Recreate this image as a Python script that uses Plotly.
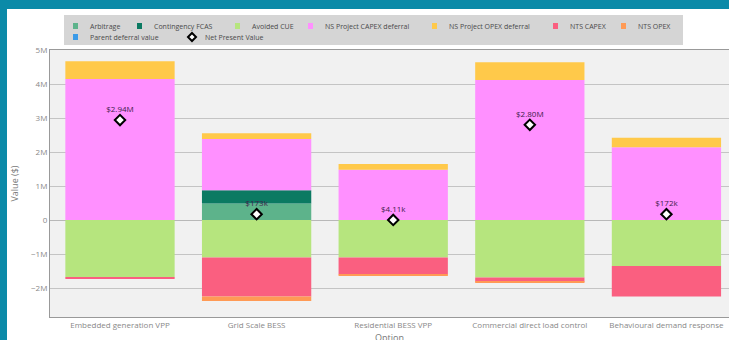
import plotly.graph_objects as go

# ---- data -------------------------------------------------------------
options = [
    "Embedded generation VPP",
    "Grid Scale BESS",
    "Residential BESS VPP",
    "Commercial direct load control",
    "Behavioural demand response",
]

arbitrage = [0, 0.49e6, 0, 0, 0]
contingency_fcas = [0, 0.39e6, 0, 0, 0]
avoided_cue = [-1.68e6, -1.10e6, -1.10e6, -1.69e6, -1.35e6]
ns_capex_deferral = [4.15e6, 1.50e6, 1.48e6, 4.12e6, 2.14e6]
ns_opex_deferral = [0.52e6, 0.17e6, 0.17e6, 0.52e6, 0.28e6]
nts_capex = [-0.05e6, -1.15e6, -0.50e6, -0.12e6, -0.898e6]
nts_opex = [0, -0.127e6, -0.0459e6, -0.03e6, 0]
parent_deferral = [0, 0, 0, 0, 0]
net_present_value = [2.94e6, 173e3, 4.11e3, 2.80e6, 172e3]

series_names = [
    "Arbitrage", "Contingency FCAS", "Avoided CUE", "NS Project CAPEX deferral",
    "NS Project OPEX deferral", "NTS CAPEX", "NTS OPEX", "Parent deferral value",
]
series_values = [
    arbitrage, contingency_fcas, avoided_cue, ns_capex_deferral,
    ns_opex_deferral, nts_capex, nts_opex, parent_deferral,
]
series_colors = [
    "#5db38b", "#0b7a62", "#b6e57e", "#ff90ff",
    "#ffc94a", "#fa5f80", "#ff9a55", "#3a9ae8",
]

# ---- page geometry (pixels) ------------------------------------------
W, H = 729, 340
ML, MR, MT, MB = 50, 0, 50, 23
PW, PH = W - ML - MR, H - MT - MB


def px(x):
    return (x - ML) / PW


def py(y):
    return (H - MB - y) / PH


def money(v):
    if abs(v) >= 1e6:
        return f"${v / 1e6:.2f}M"
    if abs(v) >= 1e5:
        return f"${v / 1e3:.0f}k"
    return f"${v / 1e3:.2f}k"


FONT = "Open Sans"
fig = go.Figure()

for name, vals, col in zip(series_names, series_values, series_colors):
    fig.add_trace(go.Bar(
        x=options, y=vals, name=name,
        marker=dict(color=col, line=dict(width=0)),
        showlegend=False,
    ))

fig.add_trace(go.Scatter(
    x=options, y=net_present_value, name="Net Present Value",
    mode="markers+text",
    text=[money(v) for v in net_present_value],
    textposition="top center",
    textfont=dict(family=FONT, size=8, color="#40204a"),
    marker=dict(symbol="diamond", size=8, color="white",
                line=dict(color="black", width=2)),
    showlegend=False,
))

shapes = [
    # white card on the teal page
    dict(type="rect", xref="paper", yref="paper", layer="below",
         x0=px(7), x1=px(W + 5), y0=py(H + 5), y1=py(9),
         fillcolor="white", line=dict(width=0)),
    # plot area background
    dict(type="rect", xref="paper", yref="paper", layer="below",
         x0=0, x1=1, y0=0, y1=1, fillcolor="#f1f1f1", line=dict(width=0)),
    # legend box
    dict(type="rect", xref="paper", yref="paper", layer="above",
         x0=px(64), x1=px(683), y0=py(45), y1=py(15),
         fillcolor="#d5d5d5", line=dict(width=0)),
]

# x-axis title, sitting low in the card
annotations = [dict(
    xref="paper", yref="paper", x=px(389), y=py(337),
    xanchor="center", yanchor="middle", showarrow=False, text="Option",
    font=dict(family=FONT, size=9, color="#777777"),
)]

# legend entries: (label, color, left x, row centre y)
legend_rows = [
    ("Arbitrage", series_colors[0], 73, 26),
    ("Contingency FCAS", series_colors[1], 137, 26),
    ("Avoided CUE", series_colors[2], 235, 26),
    ("NS Project CAPEX deferral", series_colors[3], 308, 26),
    ("NS Project OPEX deferral", series_colors[4], 432, 26),
    ("NTS CAPEX", series_colors[5], 553, 26),
    ("NTS OPEX", series_colors[6], 621, 26),
    ("Parent deferral value", series_colors[7], 73, 37),
    ("Net Present Value", None, 188, 37),
]
for label, col, lx, ly in legend_rows:
    if col is not None:
        shapes.append(dict(type="rect", xref="paper", yref="paper", layer="above",
                           x0=px(lx), x1=px(lx + 5), y0=py(ly + 3), y1=py(ly - 3),
                           fillcolor=col, line=dict(width=0)))
    else:
        cx, cy, r = lx + 4, ly, 4
        path = (f"M {px(cx)},{py(cy - r)} L {px(cx + r)},{py(cy)} "
                f"L {px(cx)},{py(cy + r)} L {px(cx - r)},{py(cy)} Z")
        shapes.append(dict(type="path", xref="paper", yref="paper", layer="above",
                           path=path, fillcolor="white",
                           line=dict(color="black", width=2)))
    annotations.append(dict(
        xref="paper", yref="paper", x=px(lx + 15), y=py(ly),
        xanchor="left", yanchor="middle", showarrow=False, text=label,
        font=dict(family=FONT, size=7, color="#4a4a4a"),
    ))

fig.update_layout(
    width=W, height=H,
    margin=dict(l=ML, r=MR, t=MT, b=MB, autoexpand=False),
    paper_bgcolor="#0b8aa8",
    plot_bgcolor="#f1f1f1",
    barmode="relative",
    bargap=0.2,
    showlegend=False,
    shapes=shapes,
    annotations=annotations,
    font=dict(family=FONT, size=8, color="#777777"),
    xaxis=dict(
        range=[-0.5124, 4.458],
        showgrid=False, showline=True, linecolor="#999999", linewidth=1,
        mirror=True, ticks="",
        tickfont=dict(size=8, color="#888888"),
        automargin=False,
    ),
    yaxis=dict(
        range=[-2.85e6, 5e6], dtick=1e6, tickformat="~s",
        showgrid=True, gridcolor="#c4c4c4", gridwidth=1,
        zeroline=True, zerolinecolor="#b8b8b8", zerolinewidth=1,
        showline=True, linecolor="#999999", linewidth=1, ticks="",
        tickfont=dict(size=8, color="#888888"),
        title=dict(text="Value ($)", font=dict(size=9, color="#777777"), standoff=10),
        automargin=True,
    ),
)

fig.write_html("out.html")
